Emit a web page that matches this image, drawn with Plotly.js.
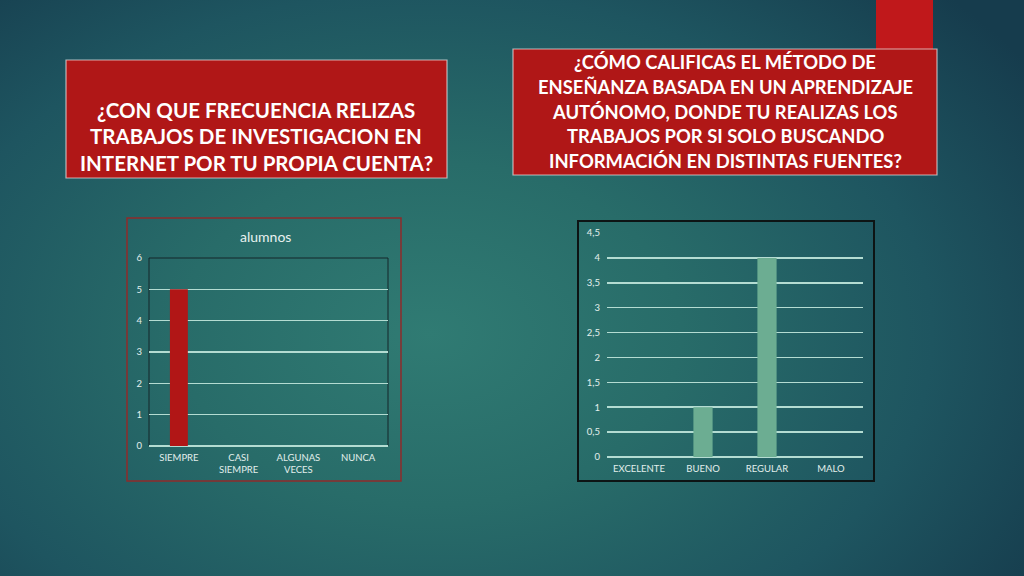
<!DOCTYPE html>
<html>
<head>
<meta charset="utf-8">
<script src="https://cdn.plot.ly/plotly-3.0.1.min.js"></script>
<style>
  html, body { margin: 0; padding: 0; }
  body {
    width: 1024px; height: 576px; overflow: hidden;
    background: radial-gradient(ellipse 70% 85% at 42% 58%, #307b73 0%, #286c69 35%, #1e5560 70%, #163c4d 100%);
  }
  #chart { width: 1024px; height: 576px; }
</style>
</head>
<body>
<div id="chart"></div>
<script>
// left chart data
var cats1 = ['SIEMPRE', 'CASI<br>SIEMPRE', 'ALGUNAS<br>VECES', 'NUNCA'];
var alumnos = [5, 0, 0, 0];

// right chart data
var cats2 = ['EXCELENTE', 'BUENO', 'REGULAR', 'MALO'];
var calificacion = [0, 1, 4, 0];

var title1 = ['¿CON QUE FRECUENCIA RELIZAS', 'TRABAJOS DE INVESTIGACION EN', 'INTERNET POR TU PROPIA CUENTA?'];
var title2 = ['¿CÓMO CALIFICAS EL MÉTODO DE', 'ENSEÑANZA BASADA EN UN APRENDIZAJE', 'AUTÓNOMO, DONDE TU REALIZAS LOS',
              'TRABAJOS POR SI SOLO BUSCANDO', 'INFORMACIÓN EN DISTINTAS FUENTES?'];

var W = 1024, H = 576;
function px(x) { return x / W; }
function py(y) { return 1 - y / H; }

var tickFont = { family: 'Lato, "DejaVu Sans", sans-serif', size: 9.5, color: '#e3efec' };
var gridCol = '#b4dcd2';

var trace1 = {
  type: 'bar', x: cats1, y: alumnos, name: 'alumnos',
  marker: { color: '#b11616' }, xaxis: 'x', yaxis: 'y', hoverinfo: 'none'
};
var trace2 = {
  type: 'bar', x: cats2, y: calificacion, name: 'calificacion',
  marker: { color: '#6cad92' }, xaxis: 'x2', yaxis: 'y2', hoverinfo: 'none'
};

var annotations = [];
title1.forEach(function (t, i) {
  annotations.push({
    xref: 'paper', yref: 'paper', x: px(256), y: py(110 + i * 26.5),
    text: '<b>' + t + '</b>', showarrow: false, xanchor: 'center', yanchor: 'middle',
    font: { family: 'Lato, "Open Sans", sans-serif', size: 20.5, color: '#ffffff' }
  });
});
title2.forEach(function (t, i) {
  annotations.push({
    xref: 'paper', yref: 'paper', x: px(725), y: py(62 + i * 24.8),
    text: '<b>' + t + '</b>', showarrow: false, xanchor: 'center', yanchor: 'middle',
    font: { family: 'Lato, "Open Sans", sans-serif', size: 18.4, color: '#ffffff' }
  });
});
annotations.push({
  xref: 'paper', yref: 'paper', x: px(265), y: py(237),
  text: 'alumnos', showarrow: false, xanchor: 'center', yanchor: 'middle',
  font: { family: 'Lato, "DejaVu Sans", sans-serif', size: 14, color: '#e8f2f0' }
});

var shapes = [
  // red strip at top right
  { type: 'rect', xref: 'paper', yref: 'paper', x0: px(876), x1: px(933), y0: py(0), y1: py(52),
    fillcolor: '#c0181b', line: { width: 0 }, layer: 'below' },
  // title boxes
  { type: 'rect', xref: 'paper', yref: 'paper', x0: px(66), x1: px(447), y0: py(60), y1: py(178),
    fillcolor: '#b01717', line: { color: 'rgba(235,235,235,0.7)', width: 1.2 }, layer: 'below' },
  { type: 'rect', xref: 'paper', yref: 'paper', x0: px(513), x1: px(937), y0: py(49), y1: py(175),
    fillcolor: '#b01717', line: { color: 'rgba(235,235,235,0.7)', width: 1.2 }, layer: 'below' },
  // chart frames
  { type: 'rect', xref: 'paper', yref: 'paper', x0: px(127), x1: px(401), y0: py(218), y1: py(481),
    line: { color: '#8e2b2b', width: 1.5 }, layer: 'below' },
  { type: 'rect', xref: 'paper', yref: 'paper', x0: px(578), x1: px(874), y0: py(221), y1: py(481),
    line: { color: '#0d1414', width: 2 }, layer: 'below' },
  // dark outline of the left plot area
  { type: 'path', xref: 'paper', yref: 'paper',
    path: 'M ' + px(149) + ' ' + py(446) + ' L ' + px(149) + ' ' + py(258) + ' L ' + px(388) + ' ' + py(258) + ' L ' + px(388) + ' ' + py(446),
    line: { color: '#15262a', width: 1 }, layer: 'below' }
];

var layout = {
  width: W, height: H,
  margin: { l: 0, r: 0, t: 0, b: 0 },
  paper_bgcolor: 'rgba(0,0,0,0)', plot_bgcolor: 'rgba(0,0,0,0)',
  showlegend: false, bargap: 0.7, separators: ', ',
  font: { family: 'Lato, "DejaVu Sans", sans-serif', color: '#e3efec' },
  xaxis: {
    domain: [px(149), px(388)], anchor: 'y', type: 'category',
    showgrid: false, showline: false, ticks: '', tickfont: tickFont, ticklabelstandoff: 4
  },
  yaxis: {
    domain: [py(446), py(258)], anchor: 'x', range: [0, 6], dtick: 1,
    showgrid: true, gridcolor: gridCol, gridwidth: 1.5,
    zeroline: true, zerolinecolor: gridCol, zerolinewidth: 1.5,
    showline: false, ticks: '', tickfont: tickFont, ticklabelstandoff: 6
  },
  xaxis2: {
    domain: [px(607), px(863)], anchor: 'y2', type: 'category',
    showgrid: false, showline: false, ticks: '', tickfont: tickFont, ticklabelstandoff: 4
  },
  yaxis2: {
    domain: [py(457), py(233)], anchor: 'x2', range: [0, 4.5], dtick: 0.5,
    showgrid: true, gridcolor: gridCol, gridwidth: 1.5,
    zeroline: true, zerolinecolor: gridCol, zerolinewidth: 1.5,
    showline: false, ticks: '', tickfont: tickFont, ticklabelstandoff: 6
  },
  shapes: shapes,
  annotations: annotations
};

Plotly.newPlot('chart', [trace1, trace2], layout, { displayModeBar: false, staticPlot: true });
</script>
</body>
</html>
